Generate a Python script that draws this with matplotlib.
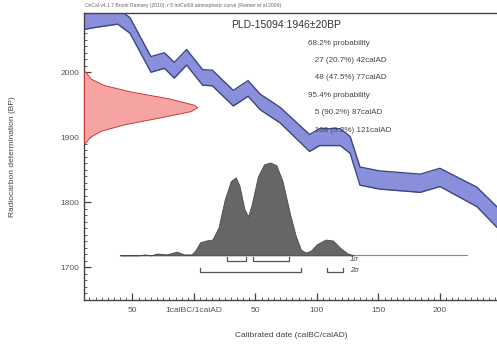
import matplotlib
matplotlib.use('Agg')
import matplotlib.pyplot as plt
from matplotlib.ticker import MultipleLocator

plt.rcParams['font.family'] = ['Liberation Sans', 'DejaVu Sans']

# Calibration curve (year AD, BP centre, half width)
cal_year = [-92, -80, -62, -52, -35, -24, -16, -6, 7, 15, 32, 44, 54, 70,
            94, 102, 119, 127, 135, 151, 184, 200, 230, 250]
cal_bp = [2077, 2081, 2086, 2072, 2012, 2018, 2003, 2023, 1992, 1991, 1960,
          1975, 1954, 1934, 1891, 1900, 1900, 1888, 1840, 1834, 1829, 1838,
          1808, 1770]
cal_err = [12, 12, 12, 12, 12, 12, 12, 12, 12, 12, 12, 12, 12, 12,
           13, 13, 13, 13, 14, 14, 14, 14, 15, 16]

# Measured date shown on the y axis (BP, relative height)
c14_bp = [2001, 1990, 1980, 1970, 1960, 1950, 1946, 1940, 1930, 1920,
          1910, 1900, 1891]
c14_amp = [0.01, 0.06, 0.18, 0.42, 0.74, 0.97, 1.0, 0.94, 0.66, 0.36,
           0.15, 0.05, 0.01]

# Calibrated posterior (year AD, relative height)
post_year = [-60, -45, -40, -35, -30, -22, -14, -8, -2, 1, 5, 10, 15, 20,
             25, 30, 34, 37, 41, 44, 47, 52, 57, 62, 67, 72, 78, 83, 87,
             91, 95, 100, 107, 113, 119, 125, 130]
post_dens = [0, 0, 0.01, 0.0, 0.02, 0.01, 0.04, 0.01, 0.01, 0.05, 0.14,
             0.16, 0.17, 0.3, 0.6, 0.8, 0.84, 0.75, 0.5, 0.42, 0.55, 0.85,
             0.98, 1.0, 0.97, 0.8, 0.45, 0.2, 0.06, 0.03, 0.05, 0.12, 0.17,
             0.16, 0.08, 0.02, 0]

# Highest posterior density ranges
sig1_ranges = [(27, 42), (48, 77)]
sig2_ranges = [(5, 87), (108, 121)]

prob_lines = ['68.2% probability', '   27 (20.7%) 42calAD',
              '   48 (47.5%) 77calAD', '95.4% probability',
              '   5 (90.2%) 87calAD', '   108 (5.2%) 121calAD']

x_ticks = [-50, 0, 50, 100, 150, 200]
x_labels = ['50', '1calBC/1calAD', '50', '100', '150', '200']
y_ticks = [1700, 1800, 1900, 2000]

fig = plt.figure(figsize=(4.97, 3.45), dpi=100)
ax = fig.add_axes([0.169, 0.130, 0.835, 0.832])
xmin, xmax = -89.4, 248
ax.set_xlim(xmin, xmax)
ax.set_ylim(1649, 2091)

# calibration curve band
lo = [b - e for b, e in zip(cal_bp, cal_err)]
hi = [b + e for b, e in zip(cal_bp, cal_err)]
ax.fill_between(cal_year, lo, hi, color='#8a8fdc', lw=0, zorder=2)
ax.plot(cal_year, lo, color='#3d4681', lw=1.0, zorder=3,
        solid_joinstyle='round')
ax.plot(cal_year, hi, color='#3d4681', lw=1.0, zorder=3,
        solid_joinstyle='round')

# radiocarbon date on y axis
red_scale = 92
ax.fill_betweenx(c14_bp, xmin, [xmin + a * red_scale for a in c14_amp],
                 facecolor='#f5a3a3', edgecolor='#c83c3c', lw=0.7, zorder=4)

# posterior distribution
base = 1718
pscale = 143
ax.plot([-60, 222], [base, base], color='#888888', lw=0.8, zorder=4)
ax.fill_between(post_year, base, [base + d * pscale for d in post_dens],
                facecolor='#666666', edgecolor='#4a4a4a', lw=0.6, zorder=5)

# hpd brackets
def bracket(a, b, y):
    ax.plot([a, a, b, b], [y + 5, y, y, y + 5], color='#555555', lw=0.9,
            zorder=5)

for a, b in sig1_ranges:
    bracket(a, b, 1710)
for a, b in sig2_ranges:
    bracket(a, b, 1693)
ax.text(127, 1712, '1\u03c3', fontsize=5.5, style='italic', color='#444444',
        va='center')
ax.text(127, 1695, '2\u03c3', fontsize=5.5, style='italic', color='#444444',
        va='center')

# annotations
ax.text(0.355, 0.975, 'PLD-15094:1946\u00b120BP', transform=ax.transAxes,
        fontsize=7.5, color='#333333', va='top', ha='left')
for i, line in enumerate(prob_lines):
    ax.text(0.54, 0.895 - i * 0.0605, line, transform=ax.transAxes,
            fontsize=5.8, color='#444444', va='center', ha='left')
fig.text(0.171, 0.99, 'OxCal v4.1.7 Bronk Ramsey (2010); r:5 IntCal09 '
         'atmospheric curve (Reimer et al 2009)', fontsize=3.6,
         color='#666666', va='top', ha='left')

# axes styling
ax.spines['right'].set_visible(False)
for s in ['left', 'bottom', 'top']:
    ax.spines[s].set_color('#444444')
    ax.spines[s].set_linewidth(1.0)
ax.set_xticks(x_ticks)
ax.set_xticklabels(x_labels)
ax.set_yticks(y_ticks)
ax.xaxis.set_minor_locator(MultipleLocator(5))
ax.yaxis.set_minor_locator(MultipleLocator(10))
ax.tick_params(which='both', direction='in', colors='#444444', labelsize=6,
               labelcolor='#555555')
ax.tick_params(which='major', length=5, width=0.9)
ax.tick_params(which='minor', length=2.5, width=0.6)
ax.tick_params(axis='x', pad=5)
ax.set_xlabel('Calibrated date (calBC/calAD)', fontsize=6, color='#444444',
              labelpad=13)
ax.set_ylabel('Radiocarbon determination (BP)', fontsize=6, color='#444444',
              labelpad=32)

fig.savefig('out.png', dpi=100, facecolor='white')
